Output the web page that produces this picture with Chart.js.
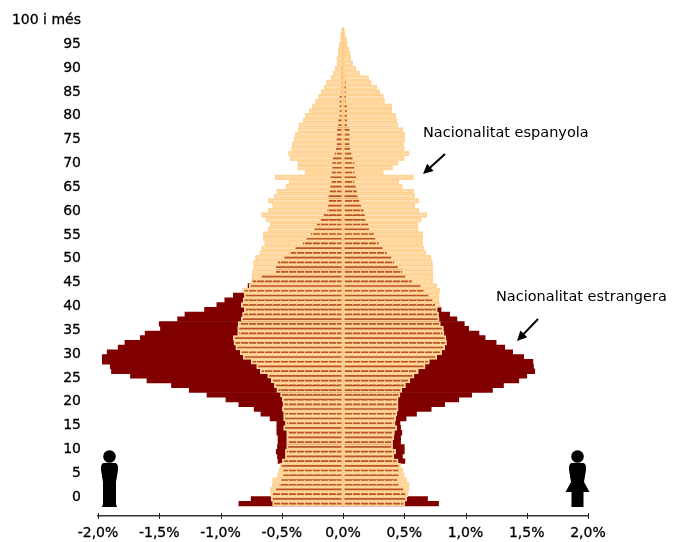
<!DOCTYPE html>
<html>
<head>
<meta charset="utf-8">
<title>Piràmide de població</title>
<script src="https://cdn.jsdelivr.net/npm/chart.js@4"></script>
<style>
    html, body { margin: 0; padding: 0; background: #fff; }
    #wrap { position: relative; width: 681px; height: 542px; }
</style>
</head>
<body>
<div id="wrap"><canvas id="piramide" width="681" height="542"></canvas></div>
<script>
// Edats: de 100 i més (primer valor) a 0 (últim valor)
const ages = [100,99,98,97,96,95,94,93,92,91,90,89,88,87,86,85,84,83,82,81,80,79,78,77,76,75,74,73,72,71,70,69,68,67,66,65,64,63,62,61,60,59,58,57,56,55,54,53,52,51,50,49,48,47,46,45,44,43,42,41,40,39,38,37,36,35,34,33,32,31,30,29,28,27,26,25,24,23,22,21,20,19,18,17,16,15,14,13,12,11,10,9,8,7,6,5,4,3,2,1,0];

// % homes, nacionalitat espanyola
const espanyolaHomes = [.012,.02,.02,.03,.04,.04,.05,.05,.065,.08,.10,.135,.155,.18,.20,.225,.25,.275,.31,.325,.36,.365,.39,.40,.415,.42,.445,.43,.37,.37,.31,.555,.44,.465,.54,.56,.61,.575,.61,.665,.63,.595,.61,.65,.65,.64,.665,.68,.715,.73,.73,.74,.74,.75,.765,.815,.805,.815,.83,.805,.82,.83,.855,.86,.86,.895,.89,.875,.84,.815,.75,.705,.675,.615,.585,.56,.54,.51,.495,.49,.495,.485,.485,.47,.485,.46,.46,.46,.46,.47,.47,.495,.515,.525,.535,.575,.58,.595,.59,.585,.575];
// % dones, nacionalitat espanyola
const espanyolaDones = [.012,.02,.03,.035,.05,.06,.065,.08,.105,.135,.21,.23,.275,.30,.33,.34,.40,.40,.43,.44,.45,.49,.505,.505,.495,.50,.54,.50,.45,.405,.33,.575,.455,.485,.58,.585,.62,.585,.62,.685,.64,.61,.615,.65,.65,.65,.66,.675,.72,.73,.735,.735,.735,.735,.765,.79,.785,.785,.795,.77,.78,.785,.795,.82,.825,.84,.845,.83,.805,.765,.705,.67,.615,.58,.545,.51,.48,.465,.45,.45,.45,.44,.43,.425,.44,.42,.415,.405,.405,.43,.415,.45,.47,.49,.50,.52,.54,.54,.53,.52,.505];
// % homes, nacionalitat estrangera
const estrangeraHomes = [0,0,0,0,0,0,0,0,.01,.01,.01,.01,.01,.01,.025,.025,.025,.025,.025,.035,.035,.045,.045,.05,.05,.055,.065,.08,.085,.085,.09,.10,.09,.10,.105,.115,.115,.12,.125,.155,.18,.21,.23,.26,.295,.325,.385,.425,.475,.53,.545,.545,.66,.74,.775,.815,.895,.965,1.03,1.13,1.29,1.35,1.50,1.49,1.615,1.655,1.78,1.835,1.925,1.965,1.965,1.90,1.89,1.735,1.60,1.40,1.255,1.11,.955,.85,.725,.67,.595,.54,.54,.54,.53,.53,.535,.545,.535,.53,.50,.485,.485,.50,.515,.545,.58,.75,.85];
// % dones, nacionalitat estrangera
const estrangeraDones = [0,0,0,0,0,0,0,0,.005,.005,.005,.02,.02,.02,.02,.02,.03,.03,.03,.03,.03,.05,.05,.05,.05,.055,.065,.075,.09,.09,.09,.105,.09,.10,.11,.115,.13,.145,.165,.175,.18,.205,.21,.25,.26,.29,.32,.355,.39,.415,.445,.48,.505,.56,.63,.655,.695,.73,.75,.80,.87,.93,.99,1.025,1.11,1.16,1.25,1.32,1.385,1.475,1.55,1.555,1.565,1.50,1.435,1.31,1.22,1.05,.945,.83,.72,.60,.515,.465,.47,.48,.47,.47,.50,.50,.485,.505,.45,.45,.45,.44,.45,.49,.505,.69,.78];

// Etiquetes de l'eix
const ageTicks = [0,5,10,15,20,25,30,35,40,45,50,55,60,65,70,75,80,85,90,95,100];
const topAgeLabel = '100 i més';
const pctTicks = [-2,-1.5,-1,-.5,0,.5,1,1.5,2];
const annotations = [
    { text: 'Nacionalitat espanyola', x: 423, y: 133 },
    { text: 'Nacionalitat estrangera', x: 496, y: 297 }
];

const FONT = 'Verdana, "DejaVu Sans", sans-serif';

// Trama del fons de les barres espanyoles (quadrícula clara)
function meshPattern() {
    const c = document.createElement('canvas');
    c.width = 8; c.height = 10;
    const g = c.getContext('2d');
    g.fillStyle = 'rgba(255,190,100,0.45)';
    g.fillRect(0, 0, 8, 10);
    g.fillStyle = 'rgba(255,208,138,0.9)';
    g.fillRect(0, 0, 1, 5);
    return c;
}

// Barres: dades per parelles {x, y} sobre l'eix d'edats
function rows(values, sign) {
    return values.map((v, i) => ({ x: sign * v, y: ages[i] }));
}

// Silueta home / dona
function drawPerson(ctx, cx, female) {
    ctx.save();
    ctx.fillStyle = '#000';
    ctx.beginPath();
    ctx.arc(cx, 456.5, 6.3, 0, Math.PI * 2);
    ctx.fill();
    ctx.beginPath();
    ctx.moveTo(cx - 6, 463);
    ctx.lineTo(cx + 6, 463);
    ctx.quadraticCurveTo(cx + 9, 464, cx + 8.5, 470);
    ctx.lineTo(cx + 6.5, 482);
    if (female) {
        ctx.lineTo(cx + 12, 492);
        ctx.lineTo(cx + 6, 492);
        ctx.lineTo(cx + 6, 507);
        ctx.lineTo(cx - 6, 507);
        ctx.lineTo(cx - 6, 492);
        ctx.lineTo(cx - 12, 492);
    } else {
        ctx.lineTo(cx + 6.5, 504);
        ctx.lineTo(cx + 7.5, 507);
        ctx.lineTo(cx - 7.5, 507);
        ctx.lineTo(cx - 6.5, 504);
    }
    ctx.lineTo(cx - 6.5, 482);
    ctx.lineTo(cx - 8.5, 470);
    ctx.quadraticCurveTo(cx - 9, 464, cx - 6, 463);
    ctx.fill();
    ctx.restore();
}

function drawArrow(ctx, x1, y1, x2, y2) {
    const a = Math.atan2(y2 - y1, x2 - x1);
    ctx.save();
    ctx.strokeStyle = '#000';
    ctx.fillStyle = '#000';
    ctx.lineWidth = 2;
    ctx.beginPath();
    ctx.moveTo(x1, y1);
    ctx.lineTo(x2 - 6 * Math.cos(a), y2 - 6 * Math.sin(a));
    ctx.stroke();
    ctx.beginPath();
    ctx.moveTo(x2, y2);
    ctx.lineTo(x2 - 11 * Math.cos(a - .45), y2 - 11 * Math.sin(a - .45));
    ctx.lineTo(x2 - 11 * Math.cos(a + .45), y2 - 11 * Math.sin(a + .45));
    ctx.closePath();
    ctx.fill();
    ctx.restore();
}

// Línia central, marques de l'eix, rètols i figures
const decorPlugin = {
    id: 'decor',
    afterDraw(chart) {
        const ctx = chart.ctx;
        const xs = chart.scales.x;
        const y = chart.scales.y;
        ctx.save();
        ctx.strokeStyle = '#ffcc88';
        ctx.lineWidth = 2;
        ctx.beginPath();
        ctx.moveTo(xs.getPixelForValue(0), y.getPixelForValue(100.5));
        ctx.lineTo(xs.getPixelForValue(0), y.getPixelForValue(-0.5));
        ctx.stroke();

        const bottom = chart.chartArea.bottom;
        ctx.strokeStyle = '#222';
        ctx.lineWidth = 1;
        pctTicks.forEach(t => {
            const px = Math.round(xs.getPixelForValue(t)) + .5;
            ctx.beginPath();
            ctx.moveTo(px, bottom - 3);
            ctx.lineTo(px, bottom + 3);
            ctx.stroke();
        });

        ctx.fillStyle = '#000';
        ctx.font = '14.5px ' + FONT;
        ctx.textBaseline = 'middle';
        annotations.forEach(a => ctx.fillText(a.text, a.x, a.y));
        ctx.restore();

        drawArrow(ctx, 445, 154, 423, 174);
        drawArrow(ctx, 538, 319, 517, 341);
        drawPerson(ctx, 109.5, false);
        drawPerson(ctx, 577.5, true);
    }
};

const mesh = document.getElementById('piramide').getContext('2d').createPattern(meshPattern(), 'repeat');

new Chart(document.getElementById('piramide'), {
    type: 'bar',
    data: {
        datasets: [
            { label: 'Estrangera homes', data: rows(estrangeraHomes, -1), backgroundColor: '#800000', order: 2 },
            { label: 'Estrangera dones', data: rows(estrangeraDones, 1), backgroundColor: '#800000', order: 2 },
            { label: 'Espanyola homes', data: rows(espanyolaHomes, -1), backgroundColor: mesh, borderColor: '#ffd79e', borderWidth: 1.2, borderSkipped: false, order: 1 },
            { label: 'Espanyola dones', data: rows(espanyolaDones, 1), backgroundColor: mesh, borderColor: '#ffd79e', borderWidth: 1.2, borderSkipped: false, order: 1 }
        ]
    },
    options: {
        indexAxis: 'y',
        responsive: false,
        animation: false,
        layout: { padding: { left: 0, right: 93, top: 0, bottom: 0 } },
        datasets: { bar: { grouped: false, barPercentage: 1, categoryPercentage: 1 } },
        scales: {
            x: {
                type: 'linear',
                min: -2,
                max: 2,
                afterBuildTicks(scale) { scale.ticks = pctTicks.map(v => ({ value: v })); },
                afterFit(scale) { scale.height = 26; },
                grid: { display: false, drawTicks: false },
                border: { color: '#333', width: 1.5 },
                ticks: {
                    color: '#000',
                    padding: 9,
                    maxRotation: 0,
                    autoSkip: false,
                    textStrokeColor: '#000',
                    textStrokeWidth: 0.3,
                    font: { family: FONT, size: 14 },
                    callback: v => v.toFixed(1).replace('.', ',') + '%'
                }
            },
            // Eix de les barres (cada unitat una edat)
            y: {
                type: 'linear',
                display: false,
                offset: false,
                min: -2.61,
                max: 101.09
            },
            // Eix visible de les etiquetes, desplaçat respecte de les barres
            yEdat: {
                type: 'linear',
                position: 'left',
                offset: false,
                min: -3.98,
                max: 98.95,
                afterBuildTicks(scale) { scale.ticks = ageTicks.map(v => ({ value: v })); },
                afterFit(scale) { scale.width = 98; },
                grid: { display: false, drawTicks: false },
                border: { display: false },
                ticks: {
                    color: '#000',
                    padding: 17,
                    autoSkip: false,
                    textStrokeColor: '#000',
                    textStrokeWidth: 0.3,
                    font: { family: FONT, size: 14 },
                    callback: v => v === 100 ? topAgeLabel : String(v)
                }
            }
        },
        plugins: { legend: { display: false }, tooltip: { enabled: false } }
    },
    plugins: [decorPlugin]
});
</script>
</body>
</html>
